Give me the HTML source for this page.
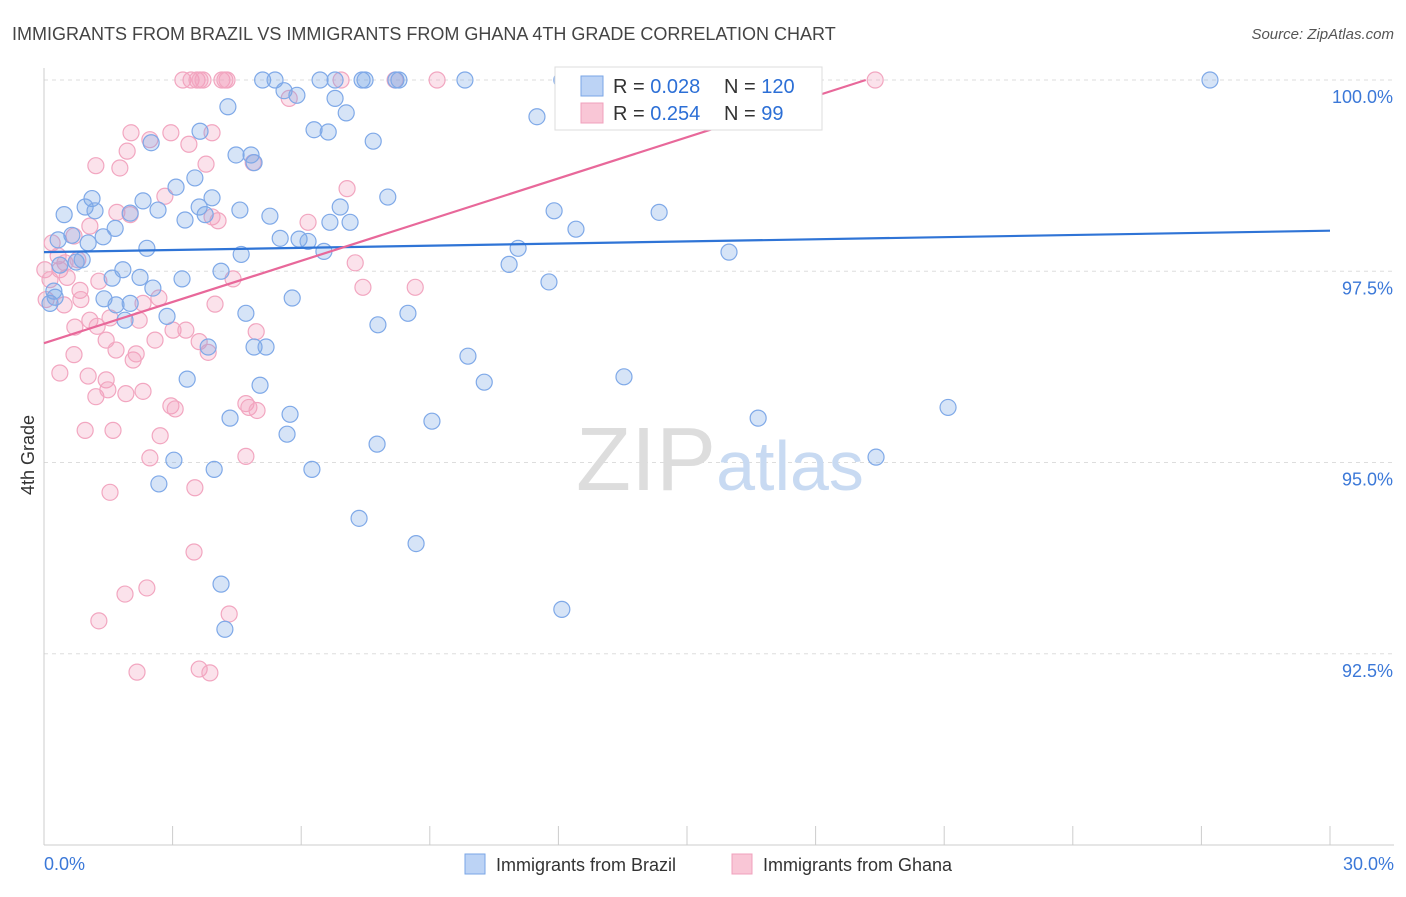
<!DOCTYPE html>
<html><head><meta charset="utf-8"><style>
body{margin:0;background:#fff;font-family:"Liberation Sans",sans-serif;}
svg text{font-family:"Liberation Sans",sans-serif;}
</style></head><body>
<svg id="chart" width="1406" height="892">
<text x="12" y="40" font-size="18" fill="#444">IMMIGRANTS FROM BRAZIL VS IMMIGRANTS FROM GHANA 4TH GRADE CORRELATION CHART</text>
<text x="1394" y="39" font-size="15" fill="#555" font-style="italic" text-anchor="end">Source: ZipAtlas.com</text>
<text x="34" y="455" font-size="18" fill="#333" transform="rotate(-90 34 455)" text-anchor="middle">4th Grade</text>
<g id="grid"></g>
<text x="720" y="490" font-size="90" fill="#ddd" text-anchor="middle" font-family="Liberation Serif">ZIP<tspan fill="#c8daf2" font-family="Liberation Sans" font-size="70">atlas</tspan></text>
<g id="pts"></g>
<g id="lines"></g>
<g>
<rect x="555" y="67" width="267" height="63" fill="#fff" stroke="#ddd"/>
<rect x="581" y="76" width="22" height="20" fill="#bcd3f5" stroke="#7aa6e6"/>
<rect x="581" y="103" width="22" height="20" fill="#f9c6d6" stroke="#f0a0bc"/>
<text x="613" y="93" font-size="20" fill="#333">R = <tspan fill="#2c6fd6">0.028</tspan></text>
<text x="724" y="93" font-size="20" fill="#333">N = <tspan fill="#2c6fd6">120</tspan></text>
<text x="613" y="120" font-size="20" fill="#333">R = <tspan fill="#2c6fd6">0.254</tspan></text>
<text x="724" y="120" font-size="20" fill="#333">N = <tspan fill="#2c6fd6">  99</tspan></text>
</g>
<g>
<rect x="465" y="854" width="20" height="20" fill="#bcd3f5" stroke="#7aa6e6"/>
<text x="496" y="871" font-size="18" fill="#333">Immigrants from Brazil</text>
<rect x="732" y="854" width="20" height="20" fill="#f9c6d6" stroke="#f0a0bc"/>
<text x="763" y="871" font-size="18" fill="#333">Immigrants from Ghana</text>
</g>
</svg>
<script>
const yTicks=[100,97.5,95,92.5];
const yTickLabels=["100.0%","97.5%","95.0%","92.5%"];
const xTickLabels=["0.0%","30.0%"];
const brazilX=[5.10,5.39,6.44,6.79,7.42,7.49,8.21,8.28,9.82,12.08,13.95,27.20,4.29,5.60,5.90,6.79,7.05,11.50,3.64,6.30,6.63,7.68,2.50,4.48,4.83,4.90,3.52,3.08,1.12,2.31,3.92,8.02,0.47,0.96,1.19,2.01,2.66,3.29,3.62,4.57,5.27,3.76,6.91,7.14,6.67,11.90,14.35,12.41,0.33,0.65,1.38,1.03,1.66,2.40,4.60,5.51,5.95,6.16,6.53,11.06,15.98,0.75,0.89,1.84,10.85,11.78,1.59,2.24,3.22,4.13,0.23,0.14,1.40,1.68,2.54,5.79,2.01,2.87,1.89,4.71,8.49,7.79,3.83,4.90,5.18,9.89,3.34,5.04,10.27,13.53,21.09,4.34,5.74,9.05,16.66,5.67,7.77,3.03,3.97,6.25,19.41,2.68,7.35,8.68,4.13,12.08,4.22,0.26,0.37];
const brazilY=[100,100,100,100,100,100,100,100,100,100,100,100,99.65,99.86,99.80,99.76,99.57,99.52,99.33,99.35,99.32,99.20,99.18,99.02,99.02,98.92,98.72,98.60,98.45,98.42,98.46,98.47,98.24,98.34,98.29,98.26,98.30,98.17,98.34,98.30,98.22,98.24,98.34,98.14,98.14,98.29,98.27,98.05,97.91,97.97,97.95,97.87,98.06,97.80,97.72,97.93,97.92,97.89,97.76,97.80,97.75,97.62,97.65,97.52,97.59,97.36,97.41,97.42,97.40,97.50,97.24,97.08,97.14,97.06,97.28,97.15,97.08,96.91,96.86,96.95,96.95,96.80,96.51,96.51,96.51,96.39,96.09,96.01,96.05,96.12,95.72,95.58,95.63,95.54,95.58,95.37,95.24,95.03,94.91,94.91,95.07,94.72,94.27,93.94,93.41,93.08,92.82,97.16,97.58];
const ghanaX=[3.24,3.43,3.57,3.71,4.15,4.22,4.27,6.93,8.19,9.17,19.39,3.64,5.72,2.03,2.96,3.92,2.47,3.38,1.94,1.21,1.77,3.78,4.88,2.82,1.70,2.01,3.92,4.06,6.16,7.07,0.70,1.07,0.19,0.33,0.49,0.79,0.37,0.02,0.14,0.05,0.54,0.84,1.28,4.41,7.44,8.66,7.26,0.86,0.47,2.31,2.68,3.99,1.07,1.24,1.54,2.22,0.72,3.01,3.31,4.95,3.62,1.45,2.59,1.68,3.83,0.70,2.08,2.15,0.37,1.03,1.45,1.21,1.49,1.91,2.31,2.96,3.06,4.71,4.78,4.97,0.96,1.61,2.71,2.47,4.71,1.54,3.52,3.50,1.89,2.40,1.28,4.32,2.17,3.62,3.87];
const ghanaY=[100,100,100,100,100,100,100,100,100,100,100,100,99.76,99.31,99.31,99.31,99.22,99.16,99.07,98.88,98.85,98.90,98.92,98.48,98.27,98.24,98.21,98.16,98.14,98.58,97.96,98.09,97.87,97.70,97.61,97.65,97.52,97.52,97.39,97.13,97.42,97.25,97.37,97.40,97.29,97.29,97.61,97.13,97.06,97.08,97.15,97.07,96.86,96.78,96.89,96.86,96.77,96.73,96.73,96.71,96.58,96.60,96.60,96.47,96.44,96.41,96.34,96.42,96.17,96.13,96.08,95.86,95.95,95.90,95.93,95.74,95.70,95.77,95.72,95.68,95.42,95.42,95.35,95.06,95.08,94.61,94.67,93.83,93.28,93.36,92.93,93.02,92.26,92.30,92.25];
const brazilTrendX=[0,30];
const brazilTrendY=[97.75,98.03];
const ghanaTrendX=[0,19.17];
const ghanaTrendY=[96.56,100];

const NS="http://www.w3.org/2000/svg";
const X0=44,X1=1330,Y100=80,PX_PER=76.5;
function sx(v){return X0+(v/30)*(X1-X0);}
function sy(v){return Y100+(100-v)*PX_PER;}
function mk(tag,attrs,parent){const e=document.createElementNS(NS,tag);for(const k in attrs)e.setAttribute(k,attrs[k]);parent.appendChild(e);return e;}
const grid=document.getElementById('grid');
const svg=document.getElementById('chart');
yTicks.forEach((t,i)=>{
  const l=mk('line',{x1:44,x2:1394,y1:sy(t),y2:sy(t),stroke:'#ddd','stroke-dasharray':'4,4'},grid);
  
  
  const tx=mk('text',{x:1393,y:sy(t)+23,'font-size':18,fill:'#3b78d8','text-anchor':'end'},grid);
  tx.textContent=yTickLabels[i];
  
  
});
const ax=mk('line',{x1:44,x2:44,y1:68,y2:845,stroke:'#ccc'},grid);


const bx=mk('line',{x1:44,x2:1394,y1:845,y2:845,stroke:'#ccc'},grid);


for(let i=0;i<=10;i++){
  const v=i*3;
  const t=mk('line',{x1:sx(v),x2:sx(v),y1:826,y2:845,stroke:'#ccc'},grid);
  
  
}
[[0,'start',44],[30,'end',1394]].forEach((d,i)=>{
  const t=mk('text',{x:d[2],y:870,'font-size':18,fill:'#3b78d8','text-anchor':d[1]},grid);
  t.textContent=xTickLabels[i];
  
  
});
const pts=document.getElementById('pts');
ghanaX.forEach((x,i)=>{
  const c=mk('circle',{cx:sx(x),cy:sy(ghanaY[i]),r:8,fill:'rgba(243,160,188,0.3)',stroke:'#f2a6c0','stroke-width':1.2},pts);
  
  
});
brazilX.forEach((x,i)=>{
  const c=mk('circle',{cx:sx(x),cy:sy(brazilY[i]),r:8,fill:'rgba(120,165,230,0.3)',stroke:'#7fa9e8','stroke-width':1.2},pts);
  
  
});
const lines=document.getElementById('lines');
const bl=mk('line',{x1:sx(brazilTrendX[0]),y1:sy(brazilTrendY[0]),x2:sx(brazilTrendX[1]),y2:sy(brazilTrendY[1]),stroke:'#2f74d6','stroke-width':2.2},lines);


const gl=mk('line',{x1:sx(ghanaTrendX[0]),y1:sy(ghanaTrendY[0]),x2:sx(ghanaTrendX[1]),y2:sy(ghanaTrendY[1]),stroke:'#e8689a','stroke-width':2.2},lines);


</script>
</body></html>
